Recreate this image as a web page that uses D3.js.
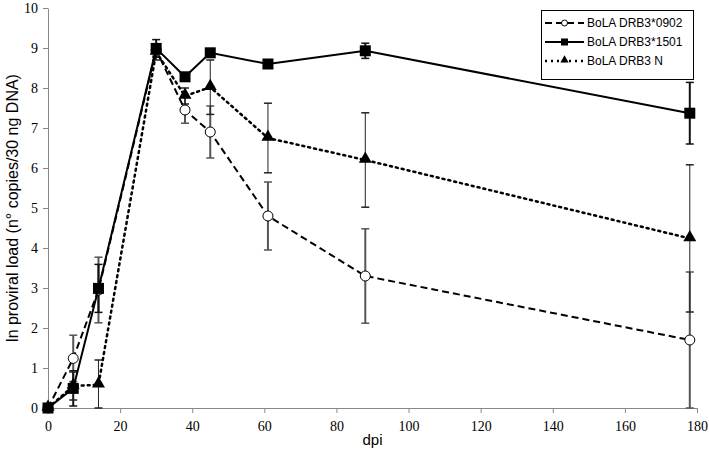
<!DOCTYPE html>
<html>
<head>
<meta charset="utf-8">
<script src="https://cdn.jsdelivr.net/npm/d3@7"></script>
<style>
  body { margin: 0; background: #fff; }
  svg { display: block; }
</style>
</head>
<body>
<svg></svg>
<script>
const w = 709, h = 453;
const margin = { top: 8, right: 12, bottom: 45, left: 48 };

// Data
const days = [0, 7, 14, 30, 38, 45, 61, 88, 178];
const load0902 = [0, 1.24, 2.95, 8.95, 7.45, 6.9, 4.8, 3.3, 1.7];
const err0902 = [0, 0.58, 0.82, 0.15, 0.33, 0.65, 0.85, 1.18, 1.7];
const load1501 = [0, 0.49, 2.99, 8.99, 8.28, 8.88, 8.6, 8.93, 7.37];
const err1501 = [0, 0.44, 0.6, 0.22, 0.1, 0.1, 0.08, 0.19, 0.77];
const loadN = [0, 0.55, 0.58, 8.9, 7.8, 8.02, 6.75, 6.2, 4.24];
const errN = [0, 0.35, 0.62, 0.2, 0.2, 0.68, 0.87, 1.18, 1.84];
const xTicks = [0, 20, 40, 60, 80, 100, 120, 140, 160, 180];
const yTicks = [0, 1, 2, 3, 4, 5, 6, 7, 8, 9, 10];

const series = [
  { name: "BoLA DRB3*0902", y: load0902, e: err0902, dash: "7,4", width: 2, errColor: "#555", errWidth: 2, marker: "circle" },
  { name: "BoLA DRB3*1501", y: load1501, e: err1501, dash: null, width: 2, errColor: "#111", errWidth: 2, marker: "square" },
  { name: "BoLA DRB3 N", y: loadN, e: errN, dash: "2,4", width: 2.5, errColor: "#222", errWidth: 1, marker: "triangle" }
];

const svg = d3.select("svg").attr("width", w).attr("height", h);

const x = d3.scaleLinear().domain([0, 180]).range([margin.left, w - margin.right]);
const y = d3.scaleLinear().domain([0, 10]).range([h - margin.bottom, margin.top]);

// axes
const xAxis = svg.append("g")
  .attr("transform", `translate(0,${y(0)})`)
  .call(d3.axisBottom(x).tickValues(xTicks).tickSize(5).tickSizeOuter(0));
const yAxis = svg.append("g")
  .attr("transform", `translate(${x(0)},0)`)
  .call(d3.axisLeft(y).tickValues(yTicks).tickSize(5).tickSizeOuter(0));

[xAxis, yAxis].forEach(a => {
  a.attr("font-family", "'Liberation Serif', 'Times New Roman', serif").attr("font-size", 14);
  a.select(".domain").attr("stroke", "#888");
  a.selectAll(".tick line").attr("stroke", "#888");
  a.selectAll(".tick text")
    .style("font-family", "'Liberation Serif', 'Times New Roman', serif")
    .style("font-size", "14px")
    .attr("fill", "#000");
});
xAxis.selectAll(".tick text").attr("dy", "1.1em");
yAxis.selectAll(".tick text").attr("x", -10);

// axis titles
svg.append("text")
  .attr("x", (x(0) + x(180)) / 2)
  .attr("y", 445)
  .attr("text-anchor", "middle")
  .style("font-family", "'Liberation Sans', Arial, sans-serif")
  .style("font-size", "15px")
  .text("dpi");

svg.append("text")
  .attr("transform", `translate(18,${(y(0) + y(10)) / 2}) rotate(-90)`)
  .attr("text-anchor", "middle")
  .style("font-family", "'Liberation Sans', Arial, sans-serif")
  .style("font-size", "16px")
  .text("ln proviral load (n° copies/30 ng DNA)");

const line = d3.line().x(d => x(d[0])).y(d => y(d[1]));

function drawMarker(g, type, cx, cy, size) {
  if (type === "circle") {
    g.append("circle").attr("cx", cx).attr("cy", cy).attr("r", size / 2)
      .attr("fill", "#fff").attr("stroke", "#000").attr("stroke-width", 1);
  } else if (type === "square") {
    g.append("rect").attr("x", cx - size / 2).attr("y", cy - size / 2)
      .attr("width", size).attr("height", size).attr("fill", "#000");
  } else {
    const sym = d3.symbol().type(d3.symbolTriangle).size(size * size * 0.6);
    g.append("path").attr("d", sym()).attr("transform", `translate(${cx},${cy - 1})`).attr("fill", "#000");
  }
}

// error bars
series.forEach(s => {
  const g = svg.append("g");
  days.forEach((d, i) => {
    if (!s.e[i]) return;
    const lo = Math.max(0, s.y[i] - s.e[i]), hi = s.y[i] + s.e[i];
    const cx = x(d);
    g.append("line").attr("x1", cx).attr("x2", cx).attr("y1", y(lo)).attr("y2", y(hi))
      .attr("stroke", s.errColor).attr("stroke-width", s.errWidth);
    [lo, hi].forEach(v => {
      g.append("line").attr("x1", cx - 4).attr("x2", cx + 4).attr("y1", y(v)).attr("y2", y(v))
        .attr("stroke", s.errColor).attr("stroke-width", 1.5);
    });
  });
});

// lines and markers
series.forEach(s => {
  const pts = days.map((d, i) => [d, s.y[i]]);
  svg.append("path")
    .attr("d", line(pts))
    .attr("fill", "none")
    .attr("stroke", "#000")
    .attr("stroke-width", s.width)
    .attr("stroke-dasharray", s.dash)
    .attr("stroke-linecap", s.marker === "triangle" ? "round" : "butt");
  const g = svg.append("g");
  pts.forEach(p => drawMarker(g, s.marker, x(p[0]), y(p[1]), s.marker === "circle" ? 10 : 11));
});

// legend
const lg = svg.append("g");
lg.append("rect").attr("x", 541.5).attr("y", 10.5).attr("width", 152).attr("height", 69)
  .attr("fill", "#fff").attr("stroke", "#000").attr("stroke-width", 1);
series.forEach((s, i) => {
  const ly = 23 + i * 19;
  lg.append("line").attr("x1", 545).attr("x2", 584).attr("y1", ly).attr("y2", ly)
    .attr("stroke", "#000").attr("stroke-width", s.width)
    .attr("stroke-dasharray", s.dash);
  drawMarker(lg, s.marker, 564.5, ly, s.marker === "circle" ? 6 : 7);
  lg.append("text").attr("x", 587).attr("y", ly + 4)
    .style("font-family", "'Liberation Sans', Arial, sans-serif")
    .style("font-size", "12px")
    .text(s.name);
});
</script>
</body>
</html>
